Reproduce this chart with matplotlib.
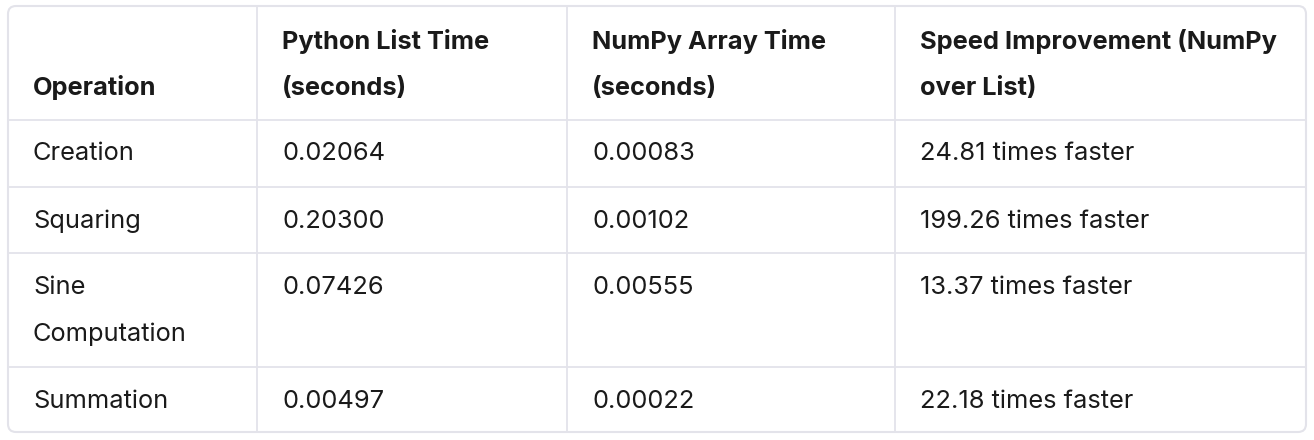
import matplotlib.pyplot as plt
from matplotlib.patches import FancyBboxPatch

headers = [["Operation"], ["Python List Time", "(seconds)"],
           ["NumPy Array Time", "(seconds)"], ["Speed Improvement (NumPy", "over List)"]]
operations = [["Creation"], ["Squaring"], ["Sine", "Computation"], ["Summation"]]
list_times = ["0.02064", "0.20300", "0.07426", "0.00497"]
numpy_times = ["0.00083", "0.00102", "0.00555", "0.00022"]
speedups = ["24.81 times faster", "199.26 times faster", "13.37 times faster", "22.18 times faster"]

W, H = 1314, 440
col_x = [8, 257, 567, 895, 1306]
row_y = [6, 120, 187, 253, 367, 432]
pad = 25
line_h = 47
fs = 18.3
text_color = "#1a1a1a"
grid_color = "#e3e3ea"

plt.rcParams['font.family'] = ['Inter', 'DejaVu Sans']
fig = plt.figure(figsize=(W / 100, H / 100), dpi=100)
ax = fig.add_axes([0, 0, 1, 1])
ax.set_xlim(0, W)
ax.set_ylim(H, 0)
ax.axis('off')

ax.add_patch(FancyBboxPatch((col_x[0], row_y[0]), col_x[-1] - col_x[0], row_y[-1] - row_y[0],
                            boxstyle="round,pad=0,rounding_size=8", fc="white",
                            ec=grid_color, lw=1.5))
for x in col_x[1:-1]:
    ax.plot([x, x], [row_y[0], row_y[-1]], color=grid_color, lw=1.3)
for y in row_y[1:-1]:
    ax.plot([col_x[0], col_x[-1]], [y, y], color=grid_color, lw=1.3)

# header, bottom-aligned
for c, lines in enumerate(headers):
    n = len(lines)
    for i, t in enumerate(lines):
        y = 88 - (n - 1 - i) * line_h
        ax.text(col_x[c] + pad, y, t, fontsize=fs, fontweight='bold',
                color=text_color, va='center', ha='left')

cells = list(zip(operations, list_times, numpy_times, speedups))
for r, row in enumerate(cells):
    top = row_y[r + 1] + 34
    for c, val in enumerate(row):
        lines = val if isinstance(val, list) else [val]
        for i, t in enumerate(lines):
            ax.text(col_x[c] + pad, top + i * line_h, t, fontsize=fs,
                    color=text_color, va='center', ha='left')

fig.savefig("out.png", dpi=100)
